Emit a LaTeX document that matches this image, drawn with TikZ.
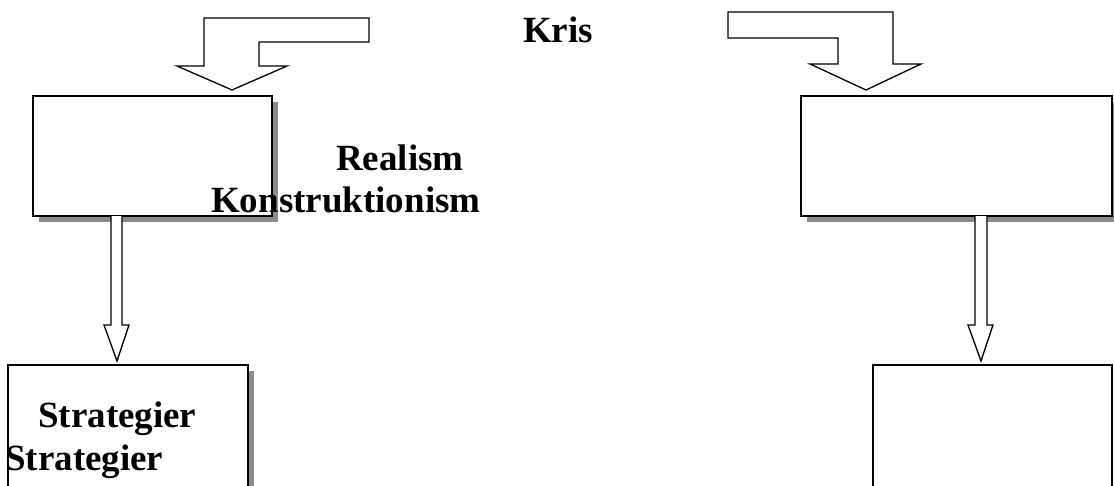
\documentclass[tikz,border=0pt]{standalone}
\usepackage{fontspec}
\setmainfont{Liberation Serif}
\usetikzlibrary{shadows}
\tikzset{
  box/.style={draw=black, line width=1.5pt, fill=white, inner sep=0pt,
    drop shadow={shadow xshift=6pt, shadow yshift=-6pt, fill=gray!90, opacity=1}},
  noshadowbox/.style={draw=black, line width=1.5pt, fill=white, inner sep=0pt},
  blockarrow/.style={draw=black, line width=1.3pt, fill=white, line join=miter},
  lbl/.style={anchor=base west, inner sep=0pt, font=\fontsize{37}{42}\selectfont\bfseries}
}
\begin{document}
\begin{tikzpicture}[x=1pt,y=-1pt]
\useasboundingbox (0,0) rectangle (1114,485);
\clip (0,0) rectangle (1114,485);
% boxes
\node[box, minimum width=239pt, minimum height=120pt] (b1) at (152.5,156) {};
\node[box, minimum width=311pt, minimum height=120pt] (b2) at (956.5,156) {};
\node[box, minimum width=240pt, minimum height=155pt] (b3) at (128,442.5) {};
\node[noshadowbox, minimum width=239pt, minimum height=155pt] (b4) at (992.5,442.5) {};
% bent block arrows
\draw[blockarrow] (204,18) -- (369,18) -- (369,42) -- (259,42) -- (259,66) -- (287,66)
  -- (232,90) -- (177,66) -- (204,66) -- cycle;
\draw[blockarrow] (728,12) -- (893,12) -- (893,64) -- (921,64) -- (866,90) -- (810,64)
  -- (838,64) -- (838,38) -- (728,38) -- cycle;
% down block arrows
\draw[blockarrow] (111,216) -- (111,325) -- (104,325) -- (117,361) -- (129,325)
  -- (122,325) -- (122,216);
\draw[blockarrow] (975,216) -- (975,325) -- (968,325) -- (981,361) -- (993,325)
  -- (987,325) -- (987,216);
% labels
\node[lbl] (kris) at (523,42) {Kris};
\node[lbl] (realism) at (336,170) {Realism};
\node[lbl] (konst) at (211,212) {Konstruktionism};
\node[lbl] (strat1) at (38,427) {Strategier};
\node[lbl] (strat2) at (5,470) {Strategier};
\end{tikzpicture}
\end{document}
